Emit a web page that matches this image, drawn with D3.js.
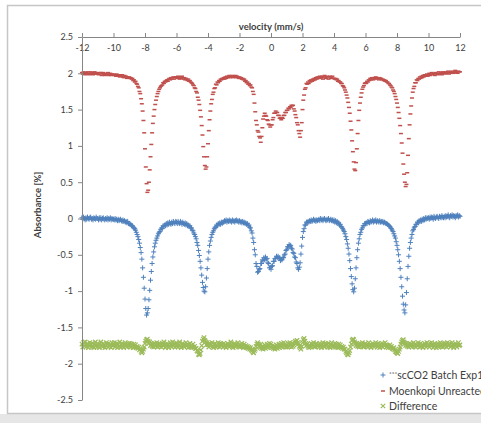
<!DOCTYPE html>
<html>
<head>
<meta charset="utf-8">
<title>Absorbance vs velocity</title>
<script src="https://d3js.org/d3.v7.min.js"></script>
<style>
  body { margin: 0; background: #fff; }
  text { font-family: Lato, "Open Sans", sans-serif; }
</style>
</head>
<body>
<svg id="chart"></svg>
<script>
// channels run evenly from -12 to 12 mm/s (0.05 mm/s apart)
const channelCount = 481;
const velocityRange = [-12, 12];

// ***scCO2 Batch Exp1 (one row = 1 mm/s)
const batchValues = [
  0.01, -0.01, 0.02, 0.00, -0.02, 0.01, -0.01, 0.02, 0.00, -0.01, 0.01, 0.02, -0.01, 0.00, -0.02, 0.01, 0.00, -0.01, 0.02, 0.00,
  0.00, -0.02, 0.01, -0.01, 0.01, -0.02, 0.00, 0.01, -0.01, -0.02, 0.00, -0.01, 0.01, -0.02, 0.00, -0.01, 0.01, -0.02, 0.00, -0.01,
  -0.01, -0.02, 0.00, -0.02, -0.01, -0.03, -0.01, -0.03, -0.02, -0.01, -0.03, -0.04, -0.02, -0.04, -0.03, -0.05, -0.04, -0.06, -0.04, -0.07,
  -0.07, -0.08, -0.08, -0.10, -0.10, -0.12, -0.13, -0.14, -0.16, -0.19, -0.22, -0.25, -0.29, -0.34, -0.40, -0.47, -0.56, -0.68, -0.81, -0.96,
  -1.11, -1.24, -1.33, -1.30, -1.24, -1.12, -0.99, -0.85, -0.73, -0.62, -0.53, -0.46, -0.39, -0.34, -0.30, -0.27, -0.24, -0.21, -0.19, -0.18,
  -0.15, -0.13, -0.14, -0.10, -0.11, -0.09, -0.10, -0.07, -0.09, -0.06, -0.08, -0.05, -0.07, -0.08, -0.05, -0.07, -0.04, -0.06, -0.07, -0.04,
  -0.05, -0.07, -0.04, -0.06, -0.07, -0.04, -0.06, -0.08, -0.05, -0.07, -0.08, -0.06, -0.09, -0.07, -0.10, -0.09, -0.11, -0.10, -0.13, -0.13,
  -0.16, -0.17, -0.20, -0.22, -0.25, -0.28, -0.33, -0.37, -0.44, -0.51, -0.59, -0.68, -0.78, -0.88, -0.95, -1.00, -1.01, -0.94, -0.82, -0.69,
  -0.56, -0.46, -0.37, -0.31, -0.26, -0.22, -0.19, -0.17, -0.14, -0.12, -0.12, -0.09, -0.10, -0.07, -0.08, -0.06, -0.08, -0.05, -0.07, -0.05,
  -0.05, -0.03, -0.04, -0.02, -0.05, -0.03, -0.04, -0.02, -0.04, -0.03, -0.05, -0.02, -0.04, -0.03, -0.05, -0.03, -0.02, -0.04, -0.03, -0.05,
  -0.03, -0.05, -0.04, -0.06, -0.04, -0.06, -0.05, -0.07, -0.06, -0.08, -0.07, -0.10, -0.09, -0.12, -0.13, -0.17, -0.20, -0.27, -0.33, -0.43,
  -0.50, -0.62, -0.66, -0.74, -0.73, -0.70, -0.69, -0.62, -0.62, -0.57, -0.58, -0.54, -0.57, -0.53, -0.56, -0.55, -0.61, -0.62, -0.68, -0.67,
  -0.70, -0.66, -0.65, -0.59, -0.59, -0.55, -0.55, -0.52, -0.54, -0.52, -0.55, -0.54, -0.58, -0.56, -0.57, -0.54, -0.54, -0.50, -0.49, -0.44,
  -0.43, -0.39, -0.39, -0.36, -0.38, -0.37, -0.41, -0.42, -0.47, -0.48, -0.53, -0.54, -0.60, -0.62, -0.68, -0.70, -0.67, -0.61, -0.49, -0.38,
  -0.26, -0.18, -0.14, -0.09, -0.09, -0.05, -0.06, -0.04, -0.05, -0.03, -0.04, -0.02, -0.04, -0.03, -0.01, -0.03, -0.02, -0.04, -0.02, -0.03,
  -0.02, -0.01, -0.03, 0.00, -0.02, -0.01, -0.03, -0.01, 0.00, -0.02, -0.03, -0.01, -0.02, 0.00, -0.03, -0.02, -0.01, -0.03, -0.02, -0.04,
  -0.02, -0.05, -0.03, -0.06, -0.04, -0.07, -0.06, -0.09, -0.08, -0.11, -0.12, -0.14, -0.16, -0.18, -0.21, -0.25, -0.29, -0.35, -0.41, -0.49,
  -0.58, -0.69, -0.80, -0.90, -0.98, -1.01, -0.96, -0.83, -0.68, -0.54, -0.43, -0.34, -0.28, -0.22, -0.19, -0.15, -0.13, -0.10, -0.10, -0.07,
  -0.07, -0.06, -0.07, -0.04, -0.05, -0.06, -0.03, -0.05, -0.04, -0.02, -0.05, -0.03, -0.04, -0.02, -0.05, -0.03, -0.04, -0.05, -0.03, -0.05,
  -0.04, -0.05, -0.04, -0.06, -0.05, -0.06, -0.07, -0.07, -0.08, -0.09, -0.10, -0.11, -0.13, -0.14, -0.16, -0.18, -0.21, -0.24, -0.27, -0.32,
  -0.37, -0.43, -0.50, -0.59, -0.69, -0.81, -0.94, -1.07, -1.18, -1.26, -1.30, -1.19, -1.02, -0.83, -0.66, -0.52, -0.41, -0.33, -0.27, -0.22,
  -0.17, -0.15, -0.12, -0.11, -0.08, -0.08, -0.05, -0.06, -0.03, -0.04, -0.02, -0.04, -0.01, -0.03, 0.00, -0.02, 0.01, -0.01, 0.01, 0.00,
  0.01, -0.01, 0.02, 0.00, 0.02, 0.01, -0.01, 0.03, 0.01, 0.00, 0.02, 0.03, 0.01, 0.00, 0.03, 0.02, 0.01, 0.04, 0.02, 0.01,
  0.03, 0.01, 0.04, 0.02, 0.03, 0.05, 0.02, 0.01, 0.04, 0.03, 0.05, 0.02, 0.04, 0.03, 0.01, 0.04, 0.03, 0.05, 0.02, 0.04,
  0.03
];

// Moenkopi Unreacted
const unreactedValues = [
  2.01, 1.99, 2.02, 2.00, 1.98, 2.01, 1.99, 2.02, 2.00, 1.98, 2.00, 2.02, 1.99, 2.01, 1.98, 2.00, 2.02, 1.99, 2.01, 1.99,
  2.00, 1.98, 2.01, 1.99, 2.01, 1.97, 2.00, 2.01, 1.98, 1.97, 2.00, 1.98, 1.99, 2.01, 1.97, 1.98, 2.00, 1.97, 1.99, 1.98,
  1.99, 1.97, 1.98, 1.96, 1.99, 1.97, 1.96, 1.98, 1.95, 1.97, 1.96, 1.98, 1.95, 1.94, 1.97, 1.95, 1.96, 1.93, 1.95, 1.94,
  1.95, 1.93, 1.94, 1.92, 1.93, 1.90, 1.91, 1.88, 1.89, 1.86, 1.85, 1.82, 1.80, 1.75, 1.72, 1.65, 1.58, 1.48, 1.35, 1.18,
  0.96, 0.71, 0.48, 0.36, 0.39, 0.50, 0.67, 0.85, 1.02, 1.18, 1.31, 1.41, 1.50, 1.57, 1.63, 1.68, 1.72, 1.75, 1.78, 1.80,
  1.82, 1.83, 1.84, 1.87, 1.86, 1.89, 1.88, 1.90, 1.91, 1.89, 1.92, 1.93, 1.91, 1.94, 1.92, 1.94, 1.95, 1.92, 1.94, 1.95,
  1.95, 1.93, 1.96, 1.94, 1.92, 1.95, 1.93, 1.96, 1.94, 1.92, 1.94, 1.91, 1.93, 1.92, 1.90, 1.92, 1.89, 1.90, 1.88, 1.87,
  1.86, 1.84, 1.83, 1.80, 1.79, 1.75, 1.73, 1.67, 1.63, 1.57, 1.49, 1.40, 1.28, 1.15, 0.99, 0.85, 0.73, 0.68, 0.71, 0.85,
  1.03, 1.21, 1.36, 1.48, 1.58, 1.64, 1.71, 1.74, 1.79, 1.80, 1.85, 1.84, 1.88, 1.87, 1.90, 1.89, 1.92, 1.91, 1.93, 1.92,
  1.94, 1.92, 1.95, 1.93, 1.96, 1.94, 1.95, 1.97, 1.94, 1.96, 1.95, 1.97, 1.94, 1.96, 1.95, 1.97, 1.94, 1.96, 1.95, 1.93,
  1.95, 1.93, 1.94, 1.92, 1.93, 1.91, 1.92, 1.89, 1.90, 1.87, 1.88, 1.85, 1.86, 1.83, 1.84, 1.81, 1.80, 1.75, 1.71, 1.59,
  1.47, 1.35, 1.29, 1.21, 1.19, 1.13, 1.11, 1.05, 1.13, 1.25, 1.37, 1.41, 1.45, 1.42, 1.41, 1.36, 1.35, 1.30, 1.29, 1.26,
  1.29, 1.29, 1.36, 1.39, 1.45, 1.45, 1.48, 1.46, 1.46, 1.42, 1.42, 1.38, 1.39, 1.36, 1.39, 1.38, 1.42, 1.42, 1.46, 1.46,
  1.49, 1.49, 1.52, 1.51, 1.54, 1.53, 1.56, 1.55, 1.56, 1.51, 1.48, 1.43, 1.39, 1.32, 1.29, 1.21, 1.17, 1.12, 1.21, 1.32,
  1.50, 1.63, 1.70, 1.78, 1.80, 1.86, 1.85, 1.88, 1.86, 1.90, 1.88, 1.91, 1.89, 1.92, 1.90, 1.93, 1.91, 1.94, 1.92, 1.95,
  1.93, 1.95, 1.96, 1.93, 1.94, 1.96, 1.92, 1.95, 1.97, 1.94, 1.93, 1.96, 1.95, 1.92, 1.95, 1.96, 1.93, 1.94, 1.96, 1.93,
  1.93, 1.92, 1.93, 1.91, 1.92, 1.89, 1.90, 1.88, 1.88, 1.86, 1.86, 1.83, 1.82, 1.80, 1.77, 1.74, 1.70, 1.66, 1.60, 1.53,
  1.45, 1.34, 1.22, 1.07, 0.92, 0.78, 0.68, 0.66, 0.77, 0.96, 1.17, 1.35, 1.49, 1.59, 1.67, 1.73, 1.78, 1.81, 1.83, 1.86,
  1.87, 1.86, 1.89, 1.88, 1.91, 1.90, 1.93, 1.91, 1.94, 1.92, 1.91, 1.94, 1.93, 1.95, 1.92, 1.94, 1.93, 1.91, 1.94, 1.92,
  1.93, 1.91, 1.92, 1.90, 1.91, 1.89, 1.90, 1.88, 1.88, 1.86, 1.86, 1.84, 1.83, 1.81, 1.80, 1.77, 1.75, 1.72, 1.68, 1.64,
  1.59, 1.53, 1.46, 1.38, 1.28, 1.17, 1.04, 0.90, 0.75, 0.61, 0.50, 0.44, 0.47, 0.63, 0.87, 1.10, 1.29, 1.44, 1.55, 1.66,
  1.74, 1.79, 1.82, 1.87, 1.87, 1.91, 1.90, 1.93, 1.92, 1.95, 1.93, 1.96, 1.94, 1.97, 1.95, 1.98, 1.96, 1.97, 1.99, 1.96,
  1.98, 2.00, 1.97, 1.99, 2.01, 1.98, 1.99, 2.00, 1.97, 2.01, 1.99, 2.00, 1.98, 2.02, 1.99, 2.00, 2.01, 1.98, 2.02, 2.00,
  2.01, 1.99, 2.02, 2.00, 2.01, 2.03, 1.99, 2.01, 2.02, 2.00, 2.03, 2.01, 2.00, 2.02, 2.04, 2.01, 2.02, 2.00, 2.03, 2.02,
  2.02
];

// Difference
const differenceValues = [
  -1.73, -1.77, -1.71, -1.75, -1.70, -1.77, -1.74, -1.72, -1.78, -1.75, -1.71, -1.74, -1.77, -1.72, -1.76, -1.78, -1.73, -1.70, -1.75, -1.77,
  -1.72, -1.76, -1.78, -1.73, -1.70, -1.75, -1.77, -1.72, -1.74, -1.78, -1.75, -1.71, -1.73, -1.77, -1.72, -1.76, -1.74, -1.78, -1.71, -1.75,
  -1.74, -1.71, -1.77, -1.75, -1.72, -1.78, -1.73, -1.76, -1.70, -1.77, -1.74, -1.72, -1.76, -1.78, -1.73, -1.71, -1.75, -1.77, -1.74, -1.72,
  -1.76, -1.72, -1.77, -1.73, -1.75, -1.78, -1.73, -1.77, -1.74, -1.78, -1.76, -1.79, -1.77, -1.81, -1.79, -1.83, -1.85, -1.83, -1.80, -1.77,
  -1.72, -1.69, -1.67, -1.66, -1.69, -1.72, -1.70, -1.75, -1.72, -1.76, -1.73, -1.77, -1.72, -1.76, -1.74, -1.71, -1.77, -1.74, -1.72, -1.76,
  -1.73, -1.77, -1.72, -1.75, -1.70, -1.74, -1.78, -1.75, -1.72, -1.74, -1.78, -1.75, -1.71, -1.74, -1.77, -1.70, -1.75, -1.73, -1.77, -1.72,
  -1.76, -1.72, -1.77, -1.74, -1.70, -1.75, -1.78, -1.73, -1.72, -1.76, -1.77, -1.74, -1.71, -1.75, -1.73, -1.78, -1.75, -1.72, -1.77, -1.75,
  -1.77, -1.73, -1.78, -1.76, -1.79, -1.79, -1.82, -1.83, -1.87, -1.88, -1.86, -1.81, -1.75, -1.69, -1.66, -1.64, -1.68, -1.70, -1.74, -1.71,
  -1.74, -1.77, -1.72, -1.75, -1.74, -1.71, -1.76, -1.78, -1.73, -1.72, -1.77, -1.74, -1.76, -1.71, -1.74, -1.77, -1.72, -1.75, -1.73, -1.77,
  -1.72, -1.76, -1.74, -1.78, -1.75, -1.72, -1.74, -1.77, -1.75, -1.70, -1.74, -1.76, -1.78, -1.73, -1.72, -1.77, -1.75, -1.73, -1.71, -1.76,
  -1.74, -1.77, -1.75, -1.72, -1.76, -1.78, -1.73, -1.77, -1.75, -1.78, -1.76, -1.79, -1.77, -1.80, -1.78, -1.81, -1.82, -1.84, -1.85, -1.82,
  -1.80, -1.76, -1.73, -1.71, -1.73, -1.76, -1.78, -1.73, -1.79, -1.76, -1.80, -1.77, -1.74, -1.79, -1.76, -1.73, -1.78, -1.75, -1.72, -1.77,
  -1.73, -1.78, -1.75, -1.79, -1.76, -1.80, -1.77, -1.74, -1.79, -1.76, -1.73, -1.78, -1.75, -1.72, -1.77, -1.74, -1.71, -1.76, -1.73, -1.77,
  -1.74, -1.77, -1.72, -1.76, -1.71, -1.74, -1.77, -1.72, -1.76, -1.74, -1.71, -1.69, -1.72, -1.68, -1.71, -1.73, -1.76, -1.78, -1.80, -1.76,
  -1.71, -1.67, -1.65, -1.69, -1.72, -1.75, -1.73, -1.76, -1.78, -1.74, -1.77, -1.72, -1.76, -1.74, -1.71, -1.76, -1.77, -1.73, -1.72, -1.76,
  -1.74, -1.77, -1.72, -1.75, -1.78, -1.73, -1.71, -1.76, -1.77, -1.72, -1.75, -1.73, -1.77, -1.72, -1.76, -1.78, -1.74, -1.71, -1.75, -1.77,
  -1.75, -1.72, -1.77, -1.73, -1.76, -1.78, -1.73, -1.77, -1.74, -1.78, -1.76, -1.79, -1.77, -1.80, -1.80, -1.83, -1.85, -1.87, -1.88, -1.85,
  -1.82, -1.77, -1.73, -1.68, -1.66, -1.67, -1.70, -1.72, -1.75, -1.72, -1.76, -1.73, -1.77, -1.72, -1.76, -1.74, -1.71, -1.76, -1.77, -1.73,
  -1.72, -1.76, -1.74, -1.77, -1.71, -1.75, -1.73, -1.78, -1.75, -1.72, -1.74, -1.77, -1.75, -1.71, -1.74, -1.77, -1.72, -1.75, -1.78, -1.73,
  -1.76, -1.72, -1.77, -1.73, -1.75, -1.71, -1.74, -1.77, -1.75, -1.78, -1.76, -1.74, -1.78, -1.76, -1.79, -1.80, -1.78, -1.81, -1.83, -1.84,
  -1.85, -1.86, -1.83, -1.80, -1.77, -1.73, -1.70, -1.68, -1.67, -1.70, -1.72, -1.75, -1.72, -1.76, -1.74, -1.77, -1.72, -1.75, -1.73, -1.77,
  -1.74, -1.71, -1.76, -1.73, -1.77, -1.74, -1.75, -1.71, -1.74, -1.77, -1.72, -1.76, -1.74, -1.78, -1.75, -1.72, -1.74, -1.77, -1.71, -1.75,
  -1.74, -1.77, -1.72, -1.75, -1.71, -1.74, -1.78, -1.75, -1.72, -1.74, -1.78, -1.75, -1.72, -1.77, -1.74, -1.71, -1.76, -1.74, -1.77, -1.72,
  -1.76, -1.72, -1.74, -1.77, -1.71, -1.75, -1.74, -1.72, -1.77, -1.75, -1.71, -1.74, -1.78, -1.75, -1.72, -1.74, -1.77, -1.74, -1.71, -1.75,
  -1.74
];

const seriesNames = ['scCO2 Batch Exp1', 'Moenkopi Unreacted', 'Difference'];
const seriesColors = ['#4f81bd', '#c0504d', '#9bbb59'];
const xTicks = [-12, -10, -8, -6, -4, -2, 0, 2, 4, 6, 8, 10, 12];
const yTicks = [2.5, 2, 1.5, 1, 0.5, 0, -0.5, -1, -1.5, -2, -2.5];

[batchValues, unreactedValues, differenceValues].forEach((arr, k) => {
    if (arr.length !== channelCount) throw new Error(seriesNames[k] + ' has ' + arr.length + ' values');
});

// Chart dimensions
const width = 481;
const height = 423;
const plot = { left: 82, right: 460, top: 37, bottom: 400 };

const channelToVelocity = d3.scaleLinear()
    .domain([0, channelCount - 1])
    .range(velocityRange);

const xScale = d3.scaleLinear()
    .domain(velocityRange)
    .range([plot.left, plot.right]);

const yScale = d3.scaleLinear()
    .domain([-2.5, 2.5])
    .range([plot.bottom, plot.top]);

const svg = d3.select('#chart')
    .attr('width', width)
    .attr('height', height);

svg.append('rect')
    .attr('width', width)
    .attr('height', height)
    .attr('fill', '#fff');

// chart frame
svg.append('rect')
    .attr('x', 0)
    .attr('y', 414)
    .attr('width', width)
    .attr('height', 9)
    .attr('fill', '#e6e6e6');
svg.append('rect')
    .attr('x', 7.5)
    .attr('y', 5.5)
    .attr('width', 490)
    .attr('height', 408)
    .attr('fill', '#fff')
    .attr('stroke', '#c6c6c6')
    .attr('stroke-width', 1.5);

// markers
const markerPaths = [
    'M-2.5,0H2.5M0,-2.5V2.5',       // plus
    'M-2,0H2',                       // dash
    'M-2.2,-2.2L2.2,2.2M-2.2,2.2L2.2,-2.2'  // cross
];
const markerWidths = [1, 1.5, 1.2];

const seriesData = [batchValues, unreactedValues, differenceValues];

seriesData.forEach((values, k) => {
    svg.append('g')
        .attr('class', 'series')
        .selectAll('path')
        .data(values)
        .join('path')
        .attr('transform', (d, i) => `translate(${xScale(channelToVelocity(i))},${yScale(d)})`)
        .attr('d', markerPaths[k])
        .attr('fill', 'none')
        .attr('stroke', seriesColors[k])
        .attr('stroke-width', markerWidths[k]);
});

// x axis along the top, labels under it
const xAxis = svg.append('g')
    .attr('transform', `translate(0,${plot.top})`)
    .call(d3.axisBottom(xScale)
        .tickValues(xTicks)
        .tickSizeInner(-4)
        .tickSizeOuter(0)
        .tickPadding(8)
        .tickFormat(d => String(d)));

// y axis
const yAxis = svg.append('g')
    .attr('transform', `translate(${plot.left},0)`)
    .call(d3.axisLeft(yScale)
        .tickValues(yTicks)
        .tickSize(4)
        .tickSizeOuter(0)
        .tickPadding(5)
        .tickFormat(d => String(d)));

[xAxis, yAxis].forEach(ax => {
    ax.select('.domain').attr('stroke', '#868686');
    ax.selectAll('.tick line').attr('stroke', '#868686');
    ax.selectAll('.tick text')
        .attr('fill', '#404040')
        .style('font-size', '9px');
});

// axis titles
svg.append('text')
    .attr('x', 271)
    .attr('y', 30)
    .attr('text-anchor', 'middle')
    .attr('fill', '#404040')
    .style('font-size', '9.5px')
    .style('font-weight', 'bold')
    .text('velocity  (mm/s)');

svg.append('text')
    .attr('transform', 'translate(41,205) rotate(-90)')
    .attr('text-anchor', 'middle')
    .attr('fill', '#404040')
    .style('font-size', '9.5px')
    .style('font-weight', 'bold')
    .text('Absorbance [%]');

// legend (runs up to the right edge, as in the source picture)
const legend = svg.append('g');
const legendRows = [375, 391, 406];
seriesNames.forEach((name, k) => {
    legend.append('path')
        .attr('transform', `translate(383,${legendRows[k]})`)
        .attr('d', markerPaths[k])
        .attr('fill', 'none')
        .attr('stroke', seriesColors[k])
        .attr('stroke-width', markerWidths[k]);
    const t = legend.append('text')
        .attr('x', 389)
        .attr('y', legendRows[k] + 3.5)
        .attr('fill', '#404040')
        .style('font-size', '10.5px');
    if (k === 0) {
        t.append('tspan').style('font-size', '6.5px').attr('dy', -3).text('***');
        t.append('tspan').attr('dy', 3).text(name);
    } else {
        t.text(name);
    }
});
</script>
</body>
</html>
